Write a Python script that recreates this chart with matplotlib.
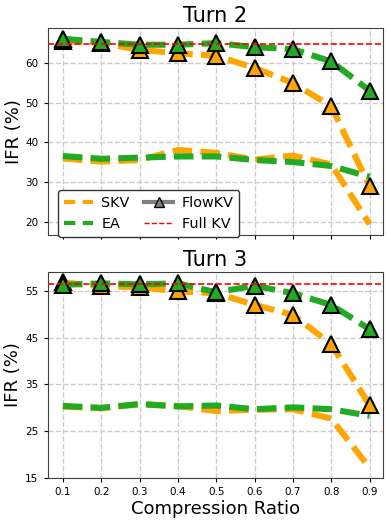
import matplotlib
matplotlib.use("Agg")
import matplotlib.pyplot as plt
from matplotlib.lines import Line2D

ratios = [0.1, 0.2, 0.3, 0.4, 0.5, 0.6, 0.7, 0.8, 0.9]

t2_skv = [36.0, 35.2, 35.6, 38.1, 37.4, 35.7, 36.7, 34.5, 19.5]
t2_ea = [36.6, 35.9, 36.2, 36.5, 36.5, 35.6, 35.1, 34.1, 31.4]
t2_flow_skv = [65.4, 65.0, 63.2, 62.4, 61.7, 58.7, 54.9, 49.1, 29.0]
t2_flow_ea = [66.0, 65.2, 64.5, 64.5, 64.9, 63.9, 63.4, 60.3, 53.0]
t2_full = 64.6

t3_skv = [30.3, 29.9, 30.8, 30.4, 29.3, 29.6, 29.7, 27.7, 17.2]
t3_ea = [30.4, 30.0, 30.8, 30.3, 30.5, 29.7, 30.1, 29.7, 28.3]
t3_flow_skv = [56.8, 56.0, 55.8, 54.9, 54.5, 52.0, 49.9, 43.6, 30.6]
t3_flow_ea = [56.3, 56.6, 56.4, 56.6, 54.7, 56.1, 54.5, 52.0, 46.8]
t3_full = 56.5

titles = ["Turn 2", "Turn 3"]
t2_yticks = [20, 30, 40, 50, 60]
t3_yticks = [15, 25, 35, 45, 55]

ORANGE = "#FFA500"
GREEN = "#22AA22"
LW = 4.4
DASH = (3.2, 1.35)

fig = plt.figure(figsize=(3.91, 5.22), dpi=100)
ax1 = fig.add_axes([0.1215, 0.5498, 0.858, 0.3966])
ax2 = fig.add_axes([0.1215, 0.0843, 0.858, 0.3952])

def draw(ax, skv, ea, fskv, fea, full, title, yticks, ylim):
    ax.grid(True, linestyle="--", color="#cccccc", linewidth=1.0, zorder=0)
    ax.set_axisbelow(True)
    ax.plot(ratios, skv, dashes=DASH, color=ORANGE, linewidth=LW, zorder=2)
    ax.plot(ratios, ea, dashes=DASH, color=GREEN, linewidth=LW, zorder=2)
    ax.plot(ratios, fskv, dashes=DASH, color=ORANGE, linewidth=LW,
            marker="^", markersize=12, markerfacecolor=ORANGE,
            markeredgecolor="black", markeredgewidth=1.5, zorder=3)
    ax.plot(ratios, fea, dashes=DASH, color=GREEN, linewidth=LW,
            marker="^", markersize=12, markerfacecolor=GREEN,
            markeredgecolor="black", markeredgewidth=1.5, zorder=4)
    ax.axhline(full, color="red", linestyle="--", linewidth=1.2, zorder=5)
    ax.set_title(title, fontsize=15, pad=4)
    ax.set_ylabel("IFR (%)", fontsize=13, labelpad=2)
    ax.set_xticks(ratios)
    ax.set_xticklabels([f"{r:.1f}" for r in ratios])
    ax.set_yticks(yticks)
    ax.set_ylim(*ylim)
    ax.set_xlim(0.06, 0.935)
    ax.tick_params(labelsize=7.5, length=3)
    for s in ax.spines.values():
        s.set_color("0.25")

draw(ax1, t2_skv, t2_ea, t2_flow_skv, t2_flow_ea, t2_full, titles[0], t2_yticks, (16.8, 68.7))
draw(ax2, t3_skv, t3_ea, t3_flow_skv, t3_flow_ea, t3_full, titles[1], t3_yticks, (15, 59.1))
ax1.tick_params(labelbottom=False)
ax2.set_xlabel("Compression Ratio", fontsize=13, labelpad=2)

handles = [
    Line2D([], [], color=ORANGE, linewidth=3, dashes=(2.7, 1.8)),
    Line2D([], [], color=GREEN, linewidth=3, dashes=(2.7, 1.8)),
    Line2D([], [], color="gray", linewidth=3, marker="^", markersize=7,
           markerfacecolor="gray", markeredgecolor="black", markeredgewidth=1),
    Line2D([], [], color="red", linewidth=1, linestyle="--"),
]
labels = ["SKV", "EA", "FlowKV", "Full KV"]
leg = ax1.legend(handles, labels, ncol=2, fontsize=10.4, loc="lower left",
                 bbox_to_anchor=(0.031, -0.01), borderaxespad=0,
                 columnspacing=1.0, handletextpad=0.6, framealpha=1,
                 edgecolor="0.2", fancybox=True)
leg.set_zorder(10)
leg.get_frame().set_linewidth(1.0)

fig.savefig("out.png", dpi=100)
